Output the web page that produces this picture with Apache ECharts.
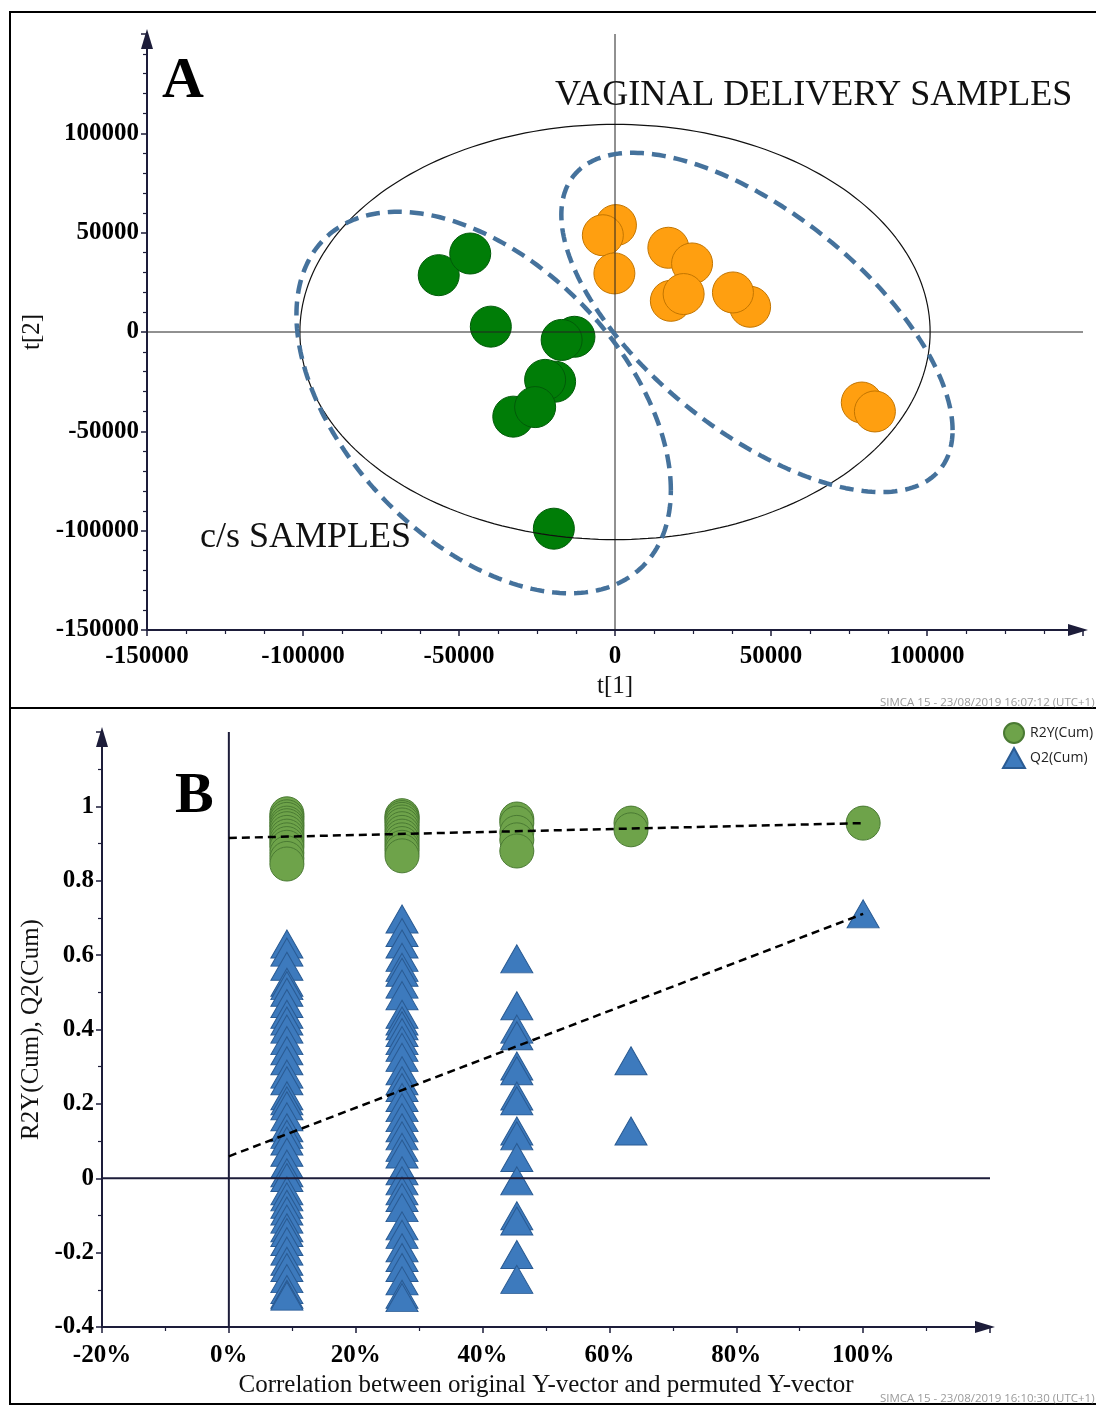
<!DOCTYPE html>
<html>
<head>
<meta charset="utf-8">
<script src="https://cdn.jsdelivr.net/npm/echarts/dist/echarts.min.js"></script>
<style>
  html, body { margin: 0; padding: 0; background: #ffffff; }
  #chart { width: 1096px; height: 1405px; }
</style>
</head>
<body>
<div id="chart"></div>
<script>
// ---- Panel A: PLS-DA score plot, t[1] vs t[2] ----
// c/s (caesarean) samples, [t1, t2]
const csScores = [
  [-56500, 28600], [-46400, 39500], [-39800, 2700], [-13000, -2400], [-17100, -4000],
  [-19200, -25000], [-22400, -24100], [-32600, -42600], [-25600, -37800], [-19600, -99000]
];
// vaginal delivery samples, [t1, t2]
const vdScores = [
  [300, 53800], [-3900, 48700], [-200, 29500], [17100, 42400], [24700, 34500],
  [17900, 15700], [22000, 19100], [43300, 12700], [37800, 19900], [79100, -35500], [83300, -40000]
];
// Hotelling T2 ellipse (centre, half-axis vectors)
const hotellingCenter = [0, 0];
const hotellingU = [101000, 0];
const hotellingV = [0, 104500];
// hand-drawn group outlines (centre, conjugate half-axis vectors)
const csOutlineCenter = [-42100, -35500];
const csOutlineU = [60000, -44100];
const csOutlineV = [0, 85300];
const vdOutlineCenter = [45500, 4800];
const vdOutlineU = [62700, -54200];
const vdOutlineV = [0, 66000];
const scoreTicks = { min: -150000, max: 150000, step: 50000 };

// ---- Panel B: permutation test ----
const permCorr = [0.0915, 0.273, 0.454, 0.634, 1.0];
const r2yByColumn = [
  [0.98, 0.972, 0.965, 0.955, 0.948, 0.94, 0.93, 0.92, 0.91, 0.90, 0.89, 0.875, 0.86, 0.845],
  [0.975, 0.97, 0.965, 0.958, 0.95, 0.94, 0.93, 0.92, 0.91, 0.90, 0.89, 0.88, 0.867],
  [0.966, 0.955, 0.93, 0.91, 0.88],
  [0.955, 0.937],
  [0.955]
];
const q2ByColumn = [
  [0.630, 0.608, 0.570, 0.527, 0.518, 0.500, 0.470, 0.441, 0.423, 0.401, 0.370, 0.343, 0.316,
   0.280, 0.262, 0.222, 0.208, 0.195, 0.165, 0.136, 0.118, 0.100, 0.070, 0.038, 0.015, 0.002,
   -0.034, -0.050, -0.070, -0.088, -0.110, -0.133, -0.146, -0.170, -0.196, -0.223, -0.240,
   -0.270, -0.299, -0.312, -0.317],
  [0.697, 0.661, 0.630, 0.594, 0.567, 0.554, 0.522, 0.491, 0.441, 0.423, 0.410, 0.392, 0.370,
   0.352, 0.325, 0.289, 0.262, 0.244, 0.217, 0.190, 0.163, 0.136, 0.114, 0.083, 0.065, 0.020,
   -0.007, -0.034, -0.052, -0.079, -0.128, -0.151, -0.187, -0.213, -0.240, -0.276, -0.312, -0.321],
  [0.590, 0.464, 0.401, 0.383, 0.302, 0.289, 0.221, 0.208, 0.127, 0.114, 0.056, -0.007,
   -0.101, -0.115, -0.205, -0.272],
  [0.316, 0.127],
  [0.711]
];
// regression lines: value at correlation 0 and at correlation 1
const r2yFit = [0.915, 0.955];
const q2Fit = [0.059, 0.711];
const corrTicks = { min: -0.2, max: 1.2, step: 0.2 };
const q2Ticks = { min: -0.4, max: 1.2, step: 0.2 };

// ---- helpers ----
function ellipse(c, u, v, n) {
  const pts = [];
  for (let i = 0; i <= n; i++) {
    const t = (i / n) * Math.PI * 2;
    pts.push([c[0] + u[0] * Math.cos(t) + v[0] * Math.sin(t),
              c[1] + u[1] * Math.cos(t) + v[1] * Math.sin(t)]);
  }
  return pts;
}
function columns(xs, cols) {
  const out = [];
  cols.forEach((vals, i) => vals.forEach(v => out.push([xs[i], v])));
  return out;
}

const SERIF = 'Liberation Serif';
const AXIS_COLOR = '#1d1d3a';

function valueAxis(grid, rng, minorSplit, labelFmt, name, nameGap, margin) {
  return {
    gridIndex: grid, type: 'value', min: rng.min, max: rng.max, interval: rng.step,
    axisLine: { show: true, onZero: false, lineStyle: { color: AXIS_COLOR, width: 2 },
                symbol: ['none', 'triangle'], symbolSize: [12, 20], symbolOffset: [0, -5] },
    axisTick: { show: true, inside: false, length: 6, lineStyle: { color: AXIS_COLOR, width: 1.5 } },
    minorTick: { show: true, splitNumber: minorSplit, length: 4, lineStyle: { color: AXIS_COLOR, width: 1.2 } },
    splitLine: { show: false },
    minorSplitLine: { show: false },
    axisLabel: { show: true, showMaxLabel: false, formatter: labelFmt, margin: margin,
                 fontFamily: SERIF, fontWeight: 'bold', fontSize: 25, color: '#000' },
    name: name, nameLocation: 'middle', nameGap: nameGap,
    nameTextStyle: { fontFamily: SERIF, fontSize: 25, color: '#111' }
  };
}

const option = {
  animation: false,
  backgroundColor: '#ffffff',
  grid: [
    { left: 147, right: 13, top: 34, bottom: 775 },
    { left: 102, right: 106, top: 732, bottom: 78 }
  ],
  xAxis: [
    valueAxis(0, scoreTicks, 4, v => String(v), 't[1]', 44, 14),
    valueAxis(1, corrTicks, 2, v => Math.round(v * 100) + '%', 'Correlation between original Y-vector and permuted Y-vector', 46, 16)
  ],
  yAxis: [
    valueAxis(0, scoreTicks, 5, v => String(v), 't[2]', 92, 8),
    valueAxis(1, q2Ticks, 2, v => String(parseFloat(v.toFixed(1))), 'R2Y(Cum), Q2(Cum)', 46, 8)
  ],
  legend: {
    data: [{ name: 'R2Y(Cum)', icon: 'circle' }, { name: 'Q2(Cum)', icon: 'triangle' }],
    orient: 'vertical', left: 1002, top: 722, padding: 0,
    itemWidth: 22, itemHeight: 20, itemGap: 3,
    textStyle: { fontFamily: 'Open Sans', fontSize: 14, color: '#222' }
  },
  series: [
    // Panel A reference lines through the origin
    { type: 'line', xAxisIndex: 0, yAxisIndex: 0, silent: true, symbol: 'none',
      data: [[0, scoreTicks.min], [0, scoreTicks.max]], lineStyle: { color: '#222', width: 1 } },
    { type: 'line', xAxisIndex: 0, yAxisIndex: 0, silent: true, symbol: 'none',
      data: [[scoreTicks.min, 0], [scoreTicks.max, 0]], lineStyle: { color: '#222', width: 1 } },
    // Hotelling T2 ellipse
    { type: 'line', xAxisIndex: 0, yAxisIndex: 0, silent: true, symbol: 'none',
      data: ellipse(hotellingCenter, hotellingU, hotellingV, 240), lineStyle: { color: '#111', width: 1.2 } },
    // group outlines
    { type: 'line', xAxisIndex: 0, yAxisIndex: 0, silent: true, symbol: 'none',
      data: ellipse(csOutlineCenter, csOutlineU, csOutlineV, 240),
      lineStyle: { color: '#45729c', width: 4.5, type: [14, 8] } },
    { type: 'line', xAxisIndex: 0, yAxisIndex: 0, silent: true, symbol: 'none',
      data: ellipse(vdOutlineCenter, vdOutlineU, vdOutlineV, 240),
      lineStyle: { color: '#45729c', width: 4.5, type: [14, 8] } },
    // score points
    { name: 'c/s', type: 'scatter', xAxisIndex: 0, yAxisIndex: 0, symbolSize: 41, data: csScores,
      itemStyle: { color: '#007d07', borderColor: '#005a08', borderWidth: 1, opacity: 1 } },
    { name: 'vaginal', type: 'scatter', xAxisIndex: 0, yAxisIndex: 0, symbolSize: 41, data: vdScores,
      itemStyle: { color: '#ff9f10', borderColor: '#c27400', borderWidth: 1, opacity: 1 } },

    // Panel B reference lines
    { type: 'line', xAxisIndex: 1, yAxisIndex: 1, silent: true, symbol: 'none',
      data: [[0, q2Ticks.min], [0, q2Ticks.max]], lineStyle: { color: AXIS_COLOR, width: 2 } },
    { type: 'line', xAxisIndex: 1, yAxisIndex: 1, silent: true, symbol: 'none',
      data: [[corrTicks.min, 0], [corrTicks.max, 0]], lineStyle: { color: AXIS_COLOR, width: 2 } },
    // regression lines
    { type: 'line', xAxisIndex: 1, yAxisIndex: 1, silent: true, symbol: 'none', z: 3,
      data: [[0, r2yFit[0]], [1, r2yFit[1]]], lineStyle: { color: '#000', width: 2.5, type: [8, 5] } },
    { type: 'line', xAxisIndex: 1, yAxisIndex: 1, silent: true, symbol: 'none', z: 3,
      data: [[0, q2Fit[0]], [1, q2Fit[1]]], lineStyle: { color: '#000', width: 2.5, type: [8, 5] } },
    // permutation results
    { name: 'R2Y(Cum)', type: 'scatter', xAxisIndex: 1, yAxisIndex: 1, symbol: 'circle', symbolSize: 34,
      data: columns(permCorr, r2yByColumn), z: 2,
      itemStyle: { color: '#6ea34a', borderColor: '#4a7a33', borderWidth: 1, opacity: 1 } },
    { name: 'Q2(Cum)', type: 'scatter', xAxisIndex: 1, yAxisIndex: 1, symbol: 'triangle', symbolSize: [32, 28],
      data: columns(permCorr, q2ByColumn), z: 2,
      itemStyle: { color: '#3d7abd', borderColor: '#2a5b93', borderWidth: 1, opacity: 1 } }
  ],
  graphic: [
    { type: 'rect', shape: { x: 10, y: 12, width: 1100, height: 696 }, silent: true,
      style: { fill: 'none', stroke: '#000', lineWidth: 2 } },
    { type: 'rect', shape: { x: 10, y: 708, width: 1100, height: 696 }, silent: true,
      style: { fill: 'none', stroke: '#000', lineWidth: 2 } },
    { type: 'text', x: 162, y: 82, silent: true,
      style: { text: 'A', font: 'bold 58px "Liberation Serif"', fill: '#000', textVerticalAlign: 'middle' } },
    { type: 'text', x: 555, y: 96, silent: true,
      style: { text: 'VAGINAL DELIVERY SAMPLES', font: '36px "Liberation Serif"', fill: '#111', textVerticalAlign: 'middle' } },
    { type: 'text', x: 200, y: 538, silent: true,
      style: { text: 'c/s SAMPLES', font: '36px "Liberation Serif"', fill: '#111', textVerticalAlign: 'middle' } },
    { type: 'text', x: 175, y: 797, silent: true,
      style: { text: 'B', font: 'bold 58px "Liberation Serif"', fill: '#000', textVerticalAlign: 'middle' } },
    { type: 'text', x: 880, y: 703, silent: true,
      style: { text: 'SIMCA 15 - 23/08/2019 16:07:12 (UTC+1)', font: '11.5px "Open Sans"', fill: '#9a9a9a', textVerticalAlign: 'middle' } },
    { type: 'text', x: 880, y: 1399, silent: true,
      style: { text: 'SIMCA 15 - 23/08/2019 16:10:30 (UTC+1)', font: '11.5px "Open Sans"', fill: '#9a9a9a', textVerticalAlign: 'middle' } }
  ]
};

echarts.init(document.getElementById('chart'), null, { renderer: 'canvas' }).setOption(option);
</script>
</body>
</html>
